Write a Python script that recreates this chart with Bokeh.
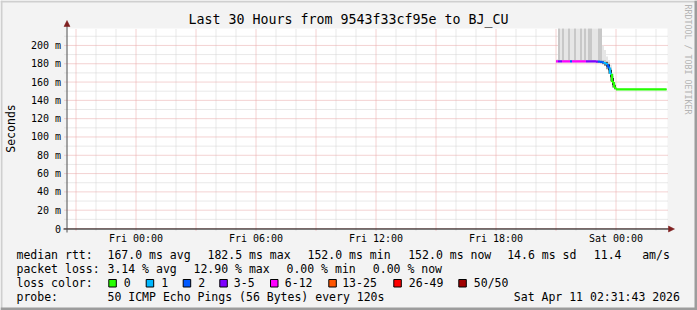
import math
from bokeh.plotting import figure
from bokeh.models import Range1d, ColumnDataSource
from bokeh.core.properties import value
from bokeh.embed import file_html
from bokeh.resources import INLINE

# ---------------- data ----------------
TITLE = "Last 30 Hours from 9543f33cf95e to BJ_CU"
X_START, X_END = -3.425, 26.575         # hours relative to Fri 00:00
Y_MAX = 0.2185                          # seconds

y_ticks = [0.00, 0.02, 0.04, 0.06, 0.08, 0.10, 0.12, 0.14, 0.16, 0.18, 0.20]
y_tick_labels = ["0", "20 m", "40 m", "60 m", "80 m", "100 m", "120 m", "140 m", "160 m", "180 m", "200 m"]
y_minor_ticks = [0.01, 0.03, 0.05, 0.07, 0.09, 0.11, 0.13, 0.15, 0.17, 0.19, 0.21]
x_ticks = [-3, 0, 3, 6, 9, 12, 15, 18, 21, 24]
x_label_ticks = [0, 6, 12, 18, 24]
x_tick_labels = ["Fri 00:00", "Fri 06:00", "Fri 12:00", "Fri 18:00", "Sat 00:00"]
x_minor_ticks = [-2, -1, 1, 2, 4, 5, 7, 8, 10, 11, 13, 14, 16, 17, 19, 20, 22, 23, 25, 26]

# step start times (hours), last step runs to DATA_END
step_t = [21.0, 21.1, 21.2, 21.3, 21.4, 21.5, 21.6, 21.7, 21.8, 21.9,
          22.0, 22.1, 22.2, 22.3, 22.4, 22.5, 22.6, 22.7, 22.8, 22.9,
          23.0, 23.1, 23.2, 23.3, 23.4, 23.5, 23.6, 23.7, 23.8, 23.9, 24.0]
DATA_END = 26.53
median_ms = [182.5, 182.5, 182.5, 182.5, 182.5, 182.5, 182.5, 182.5, 182.5, 182.5,
             182.5, 182.5, 182.5, 182.5, 182.5, 182.5, 182.5, 182.5, 182.5, 182.5,
             182.4, 182.3, 182.0, 181.6, 180.8, 179.5, 176.0, 169.0, 160.0, 154.0, 152.0]
loss = [8, 4, 4, 9, 8, 7, 9, 2, 8, 7,
        8, 6, 9, 7, 8, 5, 4, 5, 4, 4,
        5, 2, 2, 2, 1, 1, 2, 1, 0, 0, 0]
ping_min = [181.6, 181.5, 181.5, 181.5, 181.5, 181.5, 181.5, 181.5, 181.5, 181.5,
            181.5, 181.5, 181.5, 181.5, 181.5, 181.5, 181.5, 181.5, 181.5, 181.5,
            181.4, 181.0, 180.5, 179.5, 177.5, 174.0, 169.0, 161.0, 154.0, 151.8, 151.6]
ping_q1 = [182.1, 182.1, 182.1, 182.1, 182.1, 182.1, 182.1, 182.1, 182.1, 182.1,
           182.1, 182.1, 182.1, 182.1, 182.1, 182.1, 182.1, 182.1, 182.1, 182.1,
           182.0, 181.8, 181.3, 180.6, 179.3, 176.8, 172.5, 165.0, 156.5, 152.6, 151.8]
ping_q3 = [182.9, 182.9, 182.9, 182.9, 182.9, 182.9, 182.9, 182.9, 182.9, 182.9,
           182.9, 182.9, 182.9, 182.9, 182.9, 182.9, 182.9, 182.9, 182.9, 182.9,
           182.9, 182.8, 182.6, 182.4, 182.0, 181.5, 179.5, 173.5, 164.5, 156.5, 152.3]
ping_p90 = [184.0, 300.0, 184.0, 300.0, 184.0, 184.0, 300.0, 184.0, 184.0, 300.0,
            184.0, 184.0, 300.0, 184.0, 300.0, 184.0, 300.0, 300.0, 184.0, 184.0,
            184.0, 300.0, 300.0, 184.0, 184.0, 183.0, 181.5, 176.0, 167.0, 158.0, 152.6]
ping_max = [185.0, 300.0, 300.0, 300.0, 300.0, 300.0, 300.0, 300.0, 300.0, 300.0,
            300.0, 300.0, 300.0, 300.0, 300.0, 300.0, 300.0, 300.0, 300.0, 300.0,
            300.0, 300.0, 300.0, 200.0, 195.0, 188.0, 184.0, 179.0, 169.0, 160.0, 153.0]

loss_names = ["0", "1", "2", "3-5", "6-12", "13-25", "26-49", "50/50"]
loss_upper = [0, 1, 2, 5, 12, 25, 49, 50]
loss_colors = ["#26ff00", "#00b8ff", "#0059ff", "#7e00ff", "#ff00ff", "#ff5500", "#ff0000", "#a10000"]

rtt_stats = [167.0, 182.5, 152.0, 152.0, 14.6]
am_s = 11.4
loss_stats = [3.14, 12.90, 0.00, 0.00]
PROBE = "50 ICMP Echo Pings (56 Bytes) every 120s"
STAMP = "Sat Apr 11 02:31:43 2026"

# ---------------- layout helpers ----------------
W, H = 697, 310
FL, FR, FT, FB = 67, 667, 28, 228     # plot area in page pixels
MONO = "DejaVu Sans Mono"


def dx(px):
    return X_START + (px - FL) * (X_END - X_START) / (FR - FL)


def dy(py):
    return Y_MAX * (FB - py) / (FB - FT)


def lcolor(n):
    for up, c in zip(loss_upper, loss_colors):
        if n <= up:
            return c
    return loss_colors[-1]


p = figure(width=W, height=H, output_backend="svg", toolbar_location=None,
           x_range=Range1d(dx(0), dx(W)), y_range=Range1d(dy(H), dy(0)),
           x_axis_type=None, y_axis_type=None, min_border=0)
p.min_border_left = p.min_border_right = p.min_border_top = p.min_border_bottom = 0
p.background_fill_color = "#f3f3f3"
p.border_fill_color = "#f3f3f3"
p.outline_line_color = None
p.grid.visible = False

# page shading
p.quad(left=[dx(0), dx(0), dx(0), dx(W - 3)], right=[dx(W), dx(2), dx(W), dx(W)],
       top=[dy(0), dy(0), dy(H - 3), dy(0)], bottom=[dy(2), dy(H), dy(H), dy(H)],
       fill_color=["#cfcfcf", "#cfcfcf", "#9c9c9c", "#9c9c9c"], line_color=None)

# plot canvas
p.quad(left=[X_START], right=[X_END], bottom=[0], top=[Y_MAX], fill_color="#ffffff", line_color=None)

# grid
GMIN, GMAJ = "#d2d2d2", "#e8a4a4"
p.segment(x0=x_minor_ticks, x1=x_minor_ticks, y0=[dy(230)] * len(x_minor_ticks), y1=[Y_MAX] * len(x_minor_ticks),
          line_color=GMIN, line_dash="1 1", line_width=1)
p.segment(x0=[dx(64)] * len(y_minor_ticks), x1=[X_END] * len(y_minor_ticks), y0=y_minor_ticks, y1=y_minor_ticks,
          line_color=GMIN, line_dash="1 1", line_width=1)
p.segment(x0=x_ticks, x1=x_ticks, y0=[dy(230)] * len(x_ticks), y1=[Y_MAX] * len(x_ticks),
          line_color=GMAJ, line_dash="1 1", line_width=1)
p.segment(x0=[dx(64)] * len(y_ticks), x1=[X_END] * len(y_ticks), y0=y_ticks, y1=y_ticks,
          line_color=GMAJ, line_dash="1 1", line_width=1)

# ---------------- smoke ----------------
ends = step_t[1:] + [DATA_END]
to_s = lambda arr: [v / 1000.0 for v in arr]
src = ColumnDataSource(dict(left=step_t, right=ends,
                            mn=to_s(ping_min), q1=to_s(ping_q1), q3=to_s(ping_q3),
                            p90=to_s(ping_p90), mx=[min(v / 1000.0, Y_MAX) for v in ping_max]))
src.data["p90c"] = [min(v, Y_MAX) for v in src.data["p90"]]
p.quad(left="left", right="right", bottom="p90c", top="mx", source=src,
       fill_color="#e6e6e6", line_color=None)
p.quad(left="left", right="right", bottom="q3", top="p90c", source=src,
       fill_color="#c8c8c8", line_color=None)
p.quad(left="left", right="right", bottom="mn", top="q1", source=src,
       fill_color="#9a9a9a", line_color=None)
p.quad(left="left", right="right", bottom="q1", top="q3", source=src,
       fill_color="#2a2a2a", line_color=None)

# ---------------- median line coloured by loss ----------------
med_s = to_s(median_ms)
cols = [lcolor(n) for n in loss]
p.segment(x0=step_t, x1=ends, y0=med_s, y1=med_s, color=cols, line_width=2.2)
p.segment(x0=step_t[1:], x1=step_t[1:], y0=med_s[:-1], y1=med_s[1:], color=cols[1:], line_width=2.2)

# ---------------- axes ----------------
AX_Y = dy(228.5)
AX_X = dx(66.5)
p.segment(x0=[dx(63)], x1=[dx(669)], y0=[AX_Y], y1=[AX_Y], line_color="#000000", line_width=1)
p.segment(x0=[AX_X], x1=[AX_X], y0=[dy(232)], y1=[dy(25)], line_color="#505050", line_width=1)
p.patches(xs=[[dx(668), dx(674), dx(668)], [dx(63.5), AX_X, dx(69.5)]],
          ys=[[dy(225.5), AX_Y, dy(231.5)], [dy(26), dy(20), dy(26)]],
          fill_color="#7f1f1f", line_color="#7f1f1f", line_width=0.5)

# tick labels
p.text(x=x_label_ticks, y=[dy(238)] * len(x_label_ticks), text=x_tick_labels,
       text_font=value(MONO), text_font_size="10px", text_align="center", text_baseline="middle",
       text_color="#000000")
p.text(x=[dx(60.5)] * len(y_ticks), y=y_ticks, text=y_tick_labels,
       text_font=value(MONO), text_font_size="10px", text_align="right", text_baseline="middle",
       text_color="#000000")


def txt(s, px, py, size="11.5px", align="left", color="#000000", angle=0.0):
    p.text(x=[dx(px)], y=[dy(py)], text=[s], text_font=value(MONO), text_font_size=size,
           text_align=align, text_baseline="middle", text_color=color, angle=angle)


txt(TITLE, 348, 19, size="13.3px", align="center")
txt("Seconds", 10, 128, angle=math.pi / 2, align="center")
txt("RRDTOOL / TOBI OETIKER", 687, 4, size="8.3px", color="#b4b4b4", angle=-math.pi / 2)

# legend
y1, y2, y3, y4 = 254, 268, 282, 296
txt("median rtt:", 16, y1)
for v, unit, xp in zip(rtt_stats, ["ms avg", "ms max", "ms min", "ms now", "ms sd"],
                       [107, 207, 307, 407.7, 506.7]):
    txt("%.1f %s" % (v, unit), xp, y1)
txt("%.1f" % am_s, 593.3, y1)
txt("am/s", 641.7, y1)
txt("packet loss:", 16, y2)
for v, unit, xp in zip(loss_stats, ["% avg", "% max", "% min", "% now"], [107, 193, 286, 372.3]):
    txt("%.2f %s" % (v, unit), xp, y2)
txt("loss color:", 16, y3)
box_x = [108.3, 145.7, 182.7, 219.3, 270, 328.3, 393.3, 458.3]
lab_x = [123.3, 160.7, 197.7, 233.3, 284.3, 341.7, 408.3, 473.3]
p.quad(left=[dx(b) for b in box_x], right=[dx(b + 7.5) for b in box_x],
       top=[dy(279)] * len(box_x), bottom=[dy(286.5)] * len(box_x),
       fill_color=loss_colors, line_color="#000000", line_width=1)
for name, lx in zip(loss_names, lab_x):
    txt(name, lx, y3)
txt("probe:", 16, y4)
txt(PROBE, 107, y4)
txt(STAMP, 513.3, y4)

open("out.html", "w").write(file_html(p, INLINE))
